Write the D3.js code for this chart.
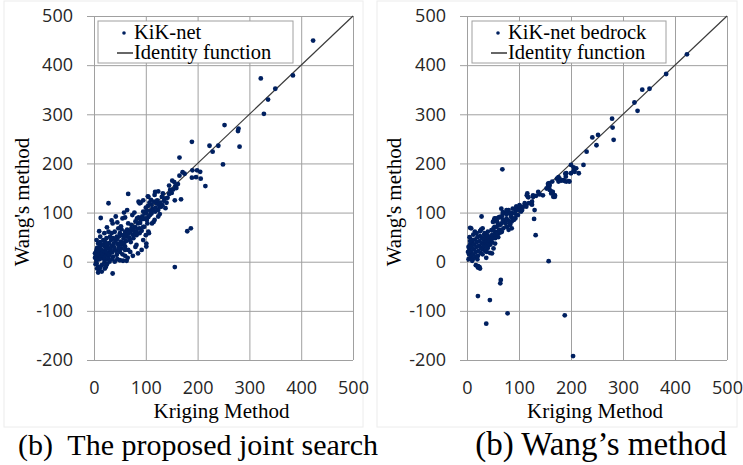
<!DOCTYPE html>
<html>
<head>
<meta charset="utf-8">
<script src="https://cdn.jsdelivr.net/npm/d3@7"></script>
<style>
  body { margin: 0; background: #fff; }
  svg { display: block; }
</style>
</head>
<body>
<svg id="chart" width="743" height="465"></svg>
<script>
// tick values
var xTicks = [0, 100, 200, 300, 400, 500];
var yTicks = [-200, -100, 0, 100, 200, 300, 400, 500];

// (a) KiK-net : [Kriging, Wang]
var kiknet = [
  [423,450],[322,373],[384,379],[350,352],[336,330],[328,301],[252,278],[279,271],[278,266],[281,234],
  [189,244],[223,236],[240,236],[229,224],[249,198],[165,212],[190,186],[199,186],[205,183],[189,171],
  [197,172],[206,169],[215,154],[171,182],[175,179],[165,175],[151,165],[155,162],[157,154],[147,146],
  [153,147],[156,125],[168,127],[66,138],[28,119],[13,89],[156,-11],[180,62],[187,68],[36,-24],
  [105,132],[118,142],[131,132],[137,129],[140,120],[86,122],[95,125],[104,133],[117,136],[124,143],
  [133,139],[88,119],[111,116],[121,119],[130,112],[138,109],[127,112],[132,115],[124,105],[118,102],
  [111,98],[105,91],[98,98],[102,85],[115,81],[97,71],[105,61],[100,54],[74,95],[78,100],
  [95,102],[101,99],[108,95],[114,105],[124,92],[127,97],[117,85],[66,78],[72,75],[79,71],
  [85,78],[88,68],[95,71],[103,78],[106,58],[112,78],[34,84],[36,78],
  [28,61],[34,58],[40,61],[47,68],[53,66],[60,61],[56,54],[50,58],[44,51],[37,48],
  [31,51],[24,48],[18,44],[12,51],[5,44],[63,51],[69,44],[76,48],[82,54],[88,58],
  [95,44],[101,37],[82,34],[92,24],[85,17],[101,31],[8,37],[15,34],[21,31],[28,27],
  [34,32],[40,25],[47,34],[53,27],[60,31],[66,24],[5,24],[12,20],[18,17],[24,14],
  [31,20],[37,10],[44,14],[12,14],[2,17],[8,10],[15,7],[21,3],[5,3],[28,10],
  [50,3],[56,2],[63,2],[40,0],[5,-3],[8,-10],[10,-17],[6,-14],[15,-7],[21,-14],
  [3,10],[4,20],[6,28],[7,15],[9,22],[10,5],[11,30],[12,40],[13,8],[14,25],
  [16,18],[17,12],[18,35],[19,22],[20,9],[22,40],[23,26],[25,19],[26,33],[27,5],
  [29,38],[30,14],[32,25],[33,44],[35,19],[38,36],[39,29],[41,42],[43,22],[45,46],
  [46,37],[48,28],[49,52],[52,41],[54,35],[57,47],[58,38],[61,55],[62,42],[64,65],
  [67,57],[68,49],[70,62],[71,40],[73,68],[75,55],[77,63],[80,82],[81,60],[83,88],
  [84,67],[86,90],[89,79],[90,85],[92,63],[93,92],[96,87],[99,88],[100,110],[102,104],
  [104,113],[107,120],[109,103],[110,126],[113,108],[116,122],[119,110],[122,125],[125,116],[128,120],
  [135,124],[142,130],[145,138],[150,140],[159,150],[162,158],[145,155],[60,90],[45,80],[52,72],
  [25,70],[20,58],[10,62],[70,20],[75,12],[80,30],[45,5],[55,15],[65,8],[50,20],
  [30,0],[15,-20],[3,-5],[12,-12],[20,-2],[2,8],[25,-5],[35,5],[60,12],[55,88],
  [42,92],[58,100],[64,105],[90,120],[60,24],[8,-22],[23,-10]
];

// (b) KiK-net bedrock : [Kriging, Wang]
var bedrock = [
  [423,422],[383,382],[337,350],[351,352],[322,324],[328,307],[279,291],[280,273],[282,248],[241,253],
  [252,258],[249,237],[230,224],[224,197],[68,188],[200,197],[205,192],[205,185],[215,180],[189,179],
  [190,173],[196,164],[188,164],[181,165],[173,169],[176,172],[164,163],[158,160],[156,156],[158,152],
  [169,132],[116,139],[153,149],[159,146],[162,143],[156,159],[159,156],[169,135],[166,132],[176,163],
  [127,132],[133,134],[140,137],[115,135],[118,131],
  [204,-192],[188,-109],[157,1],[78,-105],[37,-126],[21,-70],[44,-78],[65,-37],[64,-44],[132,54],
  [129,87],[28,92],[6,69],[21,-12],[24,-11],[17,-7],[37,8],[44,18],
  [69,98],[76,97],[52,85],[58,81],[95,112],[98,105],[53,88],[57,83],[61,90],[67,92],
  [72,99],[77,102],[80,105],[86,99],[93,103],[96,107],[99,109],[103,112],[106,105],[112,116],
  [119,119],[125,116],[130,105],[125,122],[70,68],[77,71],[83,75],[80,65],[86,68],[67,61],
  [61,58],[54,61],[48,54],[45,51],[41,48],[51,68],[57,71],[64,75],[74,78],[86,82],
  [93,88],[96,95],[90,85],[83,78],[54,37],[51,27],[38,20],[48,17],[54,48],[41,34],
  [30,68],[27,65],[22,-10],[25,-14],[15,61],[8,68],[21,-9],
  [117,132],[127,135],[137,142],[146,135],[162,139],[165,142],[168,135],[178,169],[185,166],[191,163],
  [197,163],[191,180],[200,180],[207,183],[210,190],
  [66,108],[69,101],[76,105],[82,98],[88,108],[95,112],[101,115],[108,112],[111,119],[114,112],
  [104,102],[98,95],[92,98],[85,91],[79,84],[72,81],[66,78],[60,75],[53,71],[47,64],
  [40,61],[34,58],[50,81],[56,88],[63,91],[69,85],[76,88],[82,81],[88,88],
  [3,5],[4,15],[5,25],[6,35],[7,10],[8,20],[9,30],[10,40],[11,5],[12,15],
  [13,25],[14,35],[15,45],[16,10],[17,20],[18,30],[19,40],[20,50],[21,12],[22,22],
  [23,32],[24,42],[25,52],[26,18],[27,28],[28,38],[29,48],[30,25],[31,35],[32,45],
  [33,55],[34,30],[35,40],[36,50],[37,33],[38,43],[39,53],[40,38],[41,45],[42,35],
  [43,48],[44,42],[46,45],[47,52],[49,48],[50,55],[52,50],[55,55],[58,60],[60,50],
  [62,65],[65,60],[5,50],[8,45],[12,55],[18,58],[25,62],[10,2],[20,5],[30,15],
  [35,22],[40,28],[45,35],[48,40],[3,30],[6,42],[2,20]
];

var panels = [
  { left: 94, right: 353, data: kiknet, series: "KiK-net", caption: "(b)  The proposed joint search", capX: 198, capSize: 30,
    legendX: 98, legendW: 195, titleX: 29 },
  { left: 467, right: 727, data: bedrock, series: "KiK-net bedrock", caption: "(b) Wang\u2019s method", capX: 601, capSize: 33,
    legendX: 472, legendW: 194, titleX: 401 }
];

var plotTop = 16, plotBottom = 360;
var svg = d3.select("#chart");
var dotColor = "#002060";
var serif = "'Liberation Serif', 'Times New Roman', serif";
var sans = "'Open Sans', 'Liberation Sans', sans-serif";
var plainNum = function(d) { return String(d); }; // keep ascii hyphen for negatives

panels.forEach(function(p) {
  var x = d3.scaleLinear().domain([0, 500]).range([p.left, p.right]);
  var y = d3.scaleLinear().domain([-200, 500]).range([plotBottom, plotTop]);
  var g = svg.append("g");

  // faint chart frame
  g.append("rect")
    .attr("x", p.left - 90).attr("y", 1)
    .attr("width", p.right - p.left + 100).attr("height", 426)
    .attr("fill", "none").attr("stroke", "#ececec");

  // horizontal grid + y labels
  var ya = g.append("g")
    .attr("transform", "translate(" + p.left + ",0)")
    .call(d3.axisLeft(y).tickValues(yTicks).tickFormat(plainNum)
      .tickSize(-(p.right - p.left)).tickSizeOuter(0).tickPadding(21));
  ya.select(".domain").remove();
  ya.selectAll(".tick line").attr("x1", -7).attr("stroke", "#a0a0a0");
  ya.selectAll(".tick text").attr("font-family", sans).attr("font-size", 18).attr("fill", "#262626");

  // vertical grid + x labels
  var xa = g.append("g")
    .attr("transform", "translate(0," + plotBottom + ")")
    .call(d3.axisBottom(x).tickValues(xTicks).tickFormat(plainNum)
      .tickSize(-(plotBottom - plotTop)).tickSizeOuter(0).tickPadding(0));
  xa.select(".domain").remove();
  xa.selectAll(".tick line").attr("stroke", "#a0a0a0");
  xa.selectAll(".tick text").attr("font-family", sans).attr("font-size", 18).attr("fill", "#262626")
    .attr("dy", null).attr("y", 34);

  // identity line
  g.append("line")
    .attr("x1", x(0)).attr("y1", y(0)).attr("x2", x(500)).attr("y2", y(500))
    .attr("stroke", "#3a3a3a").attr("stroke-width", 1.2);

  // points
  g.selectAll("circle.pt").data(p.data).enter().append("circle")
    .attr("class", "pt")
    .attr("cx", function(d) { return x(d[0]); })
    .attr("cy", function(d) { return y(d[1]); })
    .attr("r", 2.4)
    .attr("fill", dotColor);

  // legend
  var lg = g.append("g").attr("transform", "translate(" + p.legendX + ",21)");
  lg.append("rect").attr("width", p.legendW).attr("height", 42)
    .attr("fill", "#fff").attr("stroke", "#a0a0a0");
  lg.append("circle").attr("cx", 26).attr("cy", 12).attr("r", 1.8).attr("fill", dotColor);
  lg.append("text").attr("x", 36).attr("y", 18).text(p.series)
    .attr("font-family", serif).attr("font-size", 20.5).attr("fill", "#000");
  lg.append("line").attr("x1", 19).attr("x2", 35).attr("y1", 32).attr("y2", 32)
    .attr("stroke", "#000").attr("stroke-width", 1.2);
  lg.append("text").attr("x", 36).attr("y", 38).text("Identity function")
    .attr("font-family", serif).attr("font-size", 20.5).attr("fill", "#000");

  // axis titles
  g.append("text")
    .attr("transform", "translate(" + p.titleX + ",202) rotate(-90)")
    .attr("text-anchor", "middle")
    .attr("font-family", serif).attr("font-size", 21)
    .text("Wang's method");
  g.append("text")
    .attr("x", (p.left + p.right) / 2 - 2).attr("y", 418)
    .attr("text-anchor", "middle")
    .attr("font-family", serif).attr("font-size", 21)
    .text("Kriging Method");

  // caption
  g.append("text")
    .attr("x", p.capX).attr("y", 455)
    .attr("text-anchor", "middle")
    .attr("font-family", serif).attr("font-size", p.capSize)
    .style("white-space", "pre")
    .text(p.caption);
});
</script>
</body>
</html>
